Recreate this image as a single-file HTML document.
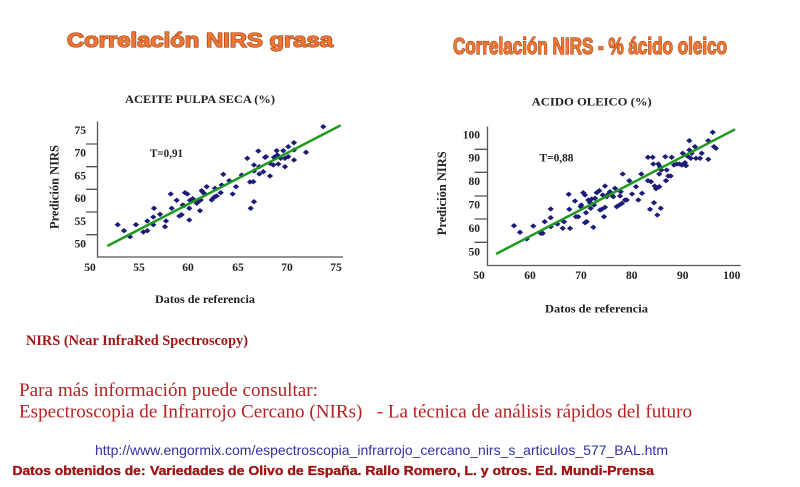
<!DOCTYPE html>
<html><head><meta charset="utf-8"><style>
html,body{margin:0;padding:0;background:#fff;}
svg{display:block;}
.t{font-family:"Liberation Serif",serif;font-weight:bold;fill:#222;}
.tk{font-family:"Liberation Serif",serif;font-weight:bold;fill:#222;font-size:11.5px;}
</style></head><body>
<svg width="800" height="487" viewBox="0 0 800 487" xmlns="http://www.w3.org/2000/svg">
<rect width="800" height="487" fill="#fff"/>
<!-- Titles -->
<text x="67" y="47" textLength="266" lengthAdjust="spacingAndGlyphs" font-family="Liberation Sans, sans-serif" font-weight="bold" font-size="20" fill="#ee7733" stroke="#a8461a" stroke-width="1.3" paint-order="stroke">Correlación NIRS grasa</text>
<text x="453" y="54" textLength="274" lengthAdjust="spacingAndGlyphs" font-family="Liberation Sans, sans-serif" font-weight="bold" font-size="23" fill="#ee7733" stroke="#a8461a" stroke-width="1.3" paint-order="stroke">Correlación NIRS - % ácido oleico</text>

<!-- LEFT CHART -->
<text class="t" x="125" y="103" font-size="12" textLength="150" lengthAdjust="spacingAndGlyphs">ACEITE PULPA SECA (%)</text>
<g stroke="#555" stroke-width="1.3" fill="none">
<path d="M97.5 121.5 V257 H343"/>
<path d="M86 144H97.5M86 166.7H97.5M86 189.3H97.5M86 212H97.5M86 234.7H97.5"/>
</g>
<g class="tk" text-anchor="end">
<text x="86" y="134">75</text><text x="86" y="156.7">70</text><text x="86" y="179.7">65</text>
<text x="86" y="202">60</text><text x="86" y="225">55</text><text x="86" y="247.7">50</text>
</g>
<g class="tk" text-anchor="middle">
<text x="90" y="271">50</text><text x="139" y="271">55</text><text x="188" y="271">60</text>
<text x="238" y="271">65</text><text x="287" y="271">70</text><text x="336" y="271">75</text>
</g>
<text class="t" x="150" y="157" font-size="12" textLength="33" lengthAdjust="spacingAndGlyphs">T=0,91</text>
<text class="t" x="155" y="303" font-size="12" textLength="100" lengthAdjust="spacingAndGlyphs">Datos de referencia</text>
<text class="t" font-size="13" textLength="84" lengthAdjust="spacingAndGlyphs" transform="translate(58.5,229) rotate(-90)">Predición NIRS</text>
<path fill="#1c1c78" stroke="#1c1c78" stroke-width="0.7" d="M115.1 224.7l2.6-2.2l2.6 2.2l-2.6 2.2zM121.4 230.7l2.6-2.2l2.6 2.2l-2.6 2.2zM127.4 236.7l2.6-2.2l2.6 2.2l-2.6 2.2zM133.4 224.7l2.6-2.2l2.6 2.2l-2.6 2.2zM140.7 232l2.6-2.2l2.6 2.2l-2.6 2.2zM144.7 230.7l2.6-2.2l2.6 2.2l-2.6 2.2zM144.7 221l2.6-2.2l2.6 2.2l-2.6 2.2zM150.7 224.7l2.6-2.2l2.6 2.2l-2.6 2.2zM150.7 217l2.6-2.2l2.6 2.2l-2.6 2.2zM151.4 208.3l2.6-2.2l2.6 2.2l-2.6 2.2zM157.4 214.3l2.6-2.2l2.6 2.2l-2.6 2.2zM162.4 226.7l2.6-2.2l2.6 2.2l-2.6 2.2zM163.4 221l2.6-2.2l2.6 2.2l-2.6 2.2zM168.1 194l2.6-2.2l2.6 2.2l-2.6 2.2zM169.1 208.3l2.6-2.2l2.6 2.2l-2.6 2.2zM174.1 200.3l2.6-2.2l2.6 2.2l-2.6 2.2zM176.7 216l2.6-2.2l2.6 2.2l-2.6 2.2zM179.1 214.7l2.6-2.2l2.6 2.2l-2.6 2.2zM180.1 205l2.6-2.2l2.6 2.2l-2.6 2.2zM181.4 205.7l2.6-2.2l2.6 2.2l-2.6 2.2zM182.4 192.7l2.6-2.2l2.6 2.2l-2.6 2.2zM184.7 194l2.6-2.2l2.6 2.2l-2.6 2.2zM186.7 208.3l2.6-2.2l2.6 2.2l-2.6 2.2zM186.7 220l2.6-2.2l2.6 2.2l-2.6 2.2zM187.4 200.3l2.6-2.2l2.6 2.2l-2.6 2.2zM190.1 198.7l2.6-2.2l2.6 2.2l-2.6 2.2zM194.1 203.3l2.6-2.2l2.6 2.2l-2.6 2.2zM195.7 201.7l2.6-2.2l2.6 2.2l-2.6 2.2zM197.4 210.7l2.6-2.2l2.6 2.2l-2.6 2.2zM198.1 200l2.6-2.2l2.6 2.2l-2.6 2.2zM199.1 190.7l2.6-2.2l2.6 2.2l-2.6 2.2zM200.7 192.7l2.6-2.2l2.6 2.2l-2.6 2.2zM202.4 194l2.6-2.2l2.6 2.2l-2.6 2.2zM204.1 186.7l2.6-2.2l2.6 2.2l-2.6 2.2zM209.1 200l2.6-2.2l2.6 2.2l-2.6 2.2zM210.7 198l2.6-2.2l2.6 2.2l-2.6 2.2zM212.4 196.7l2.6-2.2l2.6 2.2l-2.6 2.2zM214.1 196l2.6-2.2l2.6 2.2l-2.6 2.2zM212.4 188.3l2.6-2.2l2.6 2.2l-2.6 2.2zM218.1 192.7l2.6-2.2l2.6 2.2l-2.6 2.2zM219.1 185l2.6-2.2l2.6 2.2l-2.6 2.2zM220.7 174.3l2.6-2.2l2.6 2.2l-2.6 2.2zM226.7 180.7l2.6-2.2l2.6 2.2l-2.6 2.2zM230.1 194l2.6-2.2l2.6 2.2l-2.6 2.2zM233.4 186.7l2.6-2.2l2.6 2.2l-2.6 2.2zM239.1 175l2.6-2.2l2.6 2.2l-2.6 2.2zM244.7 158.3l2.6-2.2l2.6 2.2l-2.6 2.2zM247.4 182l2.6-2.2l2.6 2.2l-2.6 2.2zM248.1 208.3l2.6-2.2l2.6 2.2l-2.6 2.2zM250.7 181.7l2.6-2.2l2.6 2.2l-2.6 2.2zM251.4 165l2.6-2.2l2.6 2.2l-2.6 2.2zM251.4 201.7l2.6-2.2l2.6 2.2l-2.6 2.2zM251.4 171l2.6-2.2l2.6 2.2l-2.6 2.2zM255.7 151l2.6-2.2l2.6 2.2l-2.6 2.2zM256.7 166.7l2.6-2.2l2.6 2.2l-2.6 2.2zM256.7 174l2.6-2.2l2.6 2.2l-2.6 2.2zM260.7 171.7l2.6-2.2l2.6 2.2l-2.6 2.2zM262.4 157.3l2.6-2.2l2.6 2.2l-2.6 2.2zM263.4 156.7l2.6-2.2l2.6 2.2l-2.6 2.2zM267.4 163.3l2.6-2.2l2.6 2.2l-2.6 2.2zM267.4 176l2.6-2.2l2.6 2.2l-2.6 2.2zM270.7 165l2.6-2.2l2.6 2.2l-2.6 2.2zM271.4 157.3l2.6-2.2l2.6 2.2l-2.6 2.2zM274.1 150.7l2.6-2.2l2.6 2.2l-2.6 2.2zM274.7 155l2.6-2.2l2.6 2.2l-2.6 2.2zM275.7 164l2.6-2.2l2.6 2.2l-2.6 2.2zM278.1 158.3l2.6-2.2l2.6 2.2l-2.6 2.2zM280.7 150.7l2.6-2.2l2.6 2.2l-2.6 2.2zM282.4 166.7l2.6-2.2l2.6 2.2l-2.6 2.2zM282.4 158.3l2.6-2.2l2.6 2.2l-2.6 2.2zM285.7 156.7l2.6-2.2l2.6 2.2l-2.6 2.2zM285.7 146.7l2.6-2.2l2.6 2.2l-2.6 2.2zM291.4 142.7l2.6-2.2l2.6 2.2l-2.6 2.2zM291.4 150l2.6-2.2l2.6 2.2l-2.6 2.2zM291.4 160l2.6-2.2l2.6 2.2l-2.6 2.2zM303.4 152.3l2.6-2.2l2.6 2.2l-2.6 2.2zM320.7 126.7l2.6-2.2l2.6 2.2l-2.6 2.2z"/>
<line x1="107.3" y1="246" x2="340.7" y2="125.3" stroke="#1f9a1f" stroke-width="2.5"/>

<!-- RIGHT CHART -->
<text class="t" x="531.7" y="105.7" font-size="12" textLength="120" lengthAdjust="spacingAndGlyphs">ACIDO OLEICO (%)</text>
<g stroke="#555" stroke-width="1.3" fill="none">
<path d="M487.5 126.5 V265.5 H740.7"/>
<path d="M474.5 149.3H487.5M474.5 172.3H487.5M474.5 196H487.5M474.5 219H487.5M474.5 242.3H487.5"/>
</g>
<g class="tk" text-anchor="end">
<text x="480" y="138.7">100</text><text x="480" y="161.5">90</text><text x="480" y="185.2">80</text>
<text x="480" y="208.5">70</text><text x="480" y="232">60</text><text x="480" y="255.7">50</text>
</g>
<g class="tk" text-anchor="middle">
<text x="479" y="279">50</text><text x="530" y="279">60</text><text x="581" y="279">70</text>
<text x="631.7" y="279">80</text><text x="682.7" y="279">90</text><text x="731.7" y="279">100</text>
</g>
<text class="t" x="539.5" y="161.5" font-size="12" textLength="34" lengthAdjust="spacingAndGlyphs">T=0,88</text>
<text class="t" x="545" y="312.3" font-size="12" textLength="103" lengthAdjust="spacingAndGlyphs">Datos de referencia</text>
<text class="t" font-size="13" textLength="84" lengthAdjust="spacingAndGlyphs" transform="translate(446,235.3) rotate(-90)">Predición NIRS</text>
<path fill="#1c1c78" stroke="#1c1c78" stroke-width="0.7" d="M511.4 225.7l2.6-2.2l2.6 2.2l-2.6 2.2zM517.4 232.3l2.6-2.2l2.6 2.2l-2.6 2.2zM524.1 239l2.6-2.2l2.6 2.2l-2.6 2.2zM530.7 226l2.6-2.2l2.6 2.2l-2.6 2.2zM538.1 233.3l2.6-2.2l2.6 2.2l-2.6 2.2zM540.1 233.3l2.6-2.2l2.6 2.2l-2.6 2.2zM542.1 221.7l2.6-2.2l2.6 2.2l-2.6 2.2zM548.1 226.7l2.6-2.2l2.6 2.2l-2.6 2.2zM548.1 217.7l2.6-2.2l2.6 2.2l-2.6 2.2zM548.1 209l2.6-2.2l2.6 2.2l-2.6 2.2zM554.7 224l2.6-2.2l2.6 2.2l-2.6 2.2zM560.1 228.3l2.6-2.2l2.6 2.2l-2.6 2.2zM561.4 221.7l2.6-2.2l2.6 2.2l-2.6 2.2zM566.7 209.3l2.6-2.2l2.6 2.2l-2.6 2.2zM567.4 228.3l2.6-2.2l2.6 2.2l-2.6 2.2zM566.1 194.3l2.6-2.2l2.6 2.2l-2.6 2.2zM572.4 201l2.6-2.2l2.6 2.2l-2.6 2.2zM573.4 216.7l2.6-2.2l2.6 2.2l-2.6 2.2zM575.7 216.7l2.6-2.2l2.6 2.2l-2.6 2.2zM578.1 206.7l2.6-2.2l2.6 2.2l-2.6 2.2zM578.7 205l2.6-2.2l2.6 2.2l-2.6 2.2zM580.7 192.7l2.6-2.2l2.6 2.2l-2.6 2.2zM582.4 195l2.6-2.2l2.6 2.2l-2.6 2.2zM582.4 222.7l2.6-2.2l2.6 2.2l-2.6 2.2zM583.4 212.7l2.6-2.2l2.6 2.2l-2.6 2.2zM584.1 221.7l2.6-2.2l2.6 2.2l-2.6 2.2zM585.7 200l2.6-2.2l2.6 2.2l-2.6 2.2zM587.4 202.7l2.6-2.2l2.6 2.2l-2.6 2.2zM588.1 208.3l2.6-2.2l2.6 2.2l-2.6 2.2zM589.1 199l2.6-2.2l2.6 2.2l-2.6 2.2zM591.4 205l2.6-2.2l2.6 2.2l-2.6 2.2zM590.7 227.3l2.6-2.2l2.6 2.2l-2.6 2.2zM592.4 198.3l2.6-2.2l2.6 2.2l-2.6 2.2zM594.1 192.7l2.6-2.2l2.6 2.2l-2.6 2.2zM596.7 190.7l2.6-2.2l2.6 2.2l-2.6 2.2zM597.4 210l2.6-2.2l2.6 2.2l-2.6 2.2zM599.1 209.3l2.6-2.2l2.6 2.2l-2.6 2.2zM600.1 195l2.6-2.2l2.6 2.2l-2.6 2.2zM601.4 216.7l2.6-2.2l2.6 2.2l-2.6 2.2zM602.4 186l2.6-2.2l2.6 2.2l-2.6 2.2zM602.4 207.3l2.6-2.2l2.6 2.2l-2.6 2.2zM604.1 196.7l2.6-2.2l2.6 2.2l-2.6 2.2zM605.7 194l2.6-2.2l2.6 2.2l-2.6 2.2zM607.4 191.7l2.6-2.2l2.6 2.2l-2.6 2.2zM609.1 195l2.6-2.2l2.6 2.2l-2.6 2.2zM610.7 196.7l2.6-2.2l2.6 2.2l-2.6 2.2zM612.4 188.3l2.6-2.2l2.6 2.2l-2.6 2.2zM614.1 206.7l2.6-2.2l2.6 2.2l-2.6 2.2zM616.7 205l2.6-2.2l2.6 2.2l-2.6 2.2zM617.4 196l2.6-2.2l2.6 2.2l-2.6 2.2zM618.1 191.7l2.6-2.2l2.6 2.2l-2.6 2.2zM619.4 203.3l2.6-2.2l2.6 2.2l-2.6 2.2zM620.1 174l2.6-2.2l2.6 2.2l-2.6 2.2zM622.4 200l2.6-2.2l2.6 2.2l-2.6 2.2zM624.1 200l2.6-2.2l2.6 2.2l-2.6 2.2zM626.7 180.7l2.6-2.2l2.6 2.2l-2.6 2.2zM629.4 194l2.6-2.2l2.6 2.2l-2.6 2.2zM633.4 186.7l2.6-2.2l2.6 2.2l-2.6 2.2zM635.7 200l2.6-2.2l2.6 2.2l-2.6 2.2zM638.7 174l2.6-2.2l2.6 2.2l-2.6 2.2zM639.4 193.3l2.6-2.2l2.6 2.2l-2.6 2.2zM645.4 157.3l2.6-2.2l2.6 2.2l-2.6 2.2zM645.4 180.7l2.6-2.2l2.6 2.2l-2.6 2.2zM647.4 209.3l2.6-2.2l2.6 2.2l-2.6 2.2zM648.4 181.7l2.6-2.2l2.6 2.2l-2.6 2.2zM650.1 157.3l2.6-2.2l2.6 2.2l-2.6 2.2zM650.7 164l2.6-2.2l2.6 2.2l-2.6 2.2zM651.4 202.7l2.6-2.2l2.6 2.2l-2.6 2.2zM652.1 186l2.6-2.2l2.6 2.2l-2.6 2.2zM653.4 188.7l2.6-2.2l2.6 2.2l-2.6 2.2zM654.7 215l2.6-2.2l2.6 2.2l-2.6 2.2zM655.7 164l2.6-2.2l2.6 2.2l-2.6 2.2zM656.7 174l2.6-2.2l2.6 2.2l-2.6 2.2zM656.7 186.7l2.6-2.2l2.6 2.2l-2.6 2.2zM657.4 166.7l2.6-2.2l2.6 2.2l-2.6 2.2zM658.1 208.3l2.6-2.2l2.6 2.2l-2.6 2.2zM658.7 170l2.6-2.2l2.6 2.2l-2.6 2.2zM662.7 156.7l2.6-2.2l2.6 2.2l-2.6 2.2zM663.4 180.7l2.6-2.2l2.6 2.2l-2.6 2.2zM664.1 170l2.6-2.2l2.6 2.2l-2.6 2.2zM665.7 176l2.6-2.2l2.6 2.2l-2.6 2.2zM669.1 157.3l2.6-2.2l2.6 2.2l-2.6 2.2zM668.1 176l2.6-2.2l2.6 2.2l-2.6 2.2zM671.4 165l2.6-2.2l2.6 2.2l-2.6 2.2zM674.1 164l2.6-2.2l2.6 2.2l-2.6 2.2zM676.7 164l2.6-2.2l2.6 2.2l-2.6 2.2zM679.1 165l2.6-2.2l2.6 2.2l-2.6 2.2zM680.1 153.3l2.6-2.2l2.6 2.2l-2.6 2.2zM682.4 162.7l2.6-2.2l2.6 2.2l-2.6 2.2zM683.4 165.7l2.6-2.2l2.6 2.2l-2.6 2.2zM684.7 156l2.6-2.2l2.6 2.2l-2.6 2.2zM686.7 140.7l2.6-2.2l2.6 2.2l-2.6 2.2zM686.7 150l2.6-2.2l2.6 2.2l-2.6 2.2zM688.1 158.3l2.6-2.2l2.6 2.2l-2.6 2.2zM689.1 153.3l2.6-2.2l2.6 2.2l-2.6 2.2zM692.4 146.7l2.6-2.2l2.6 2.2l-2.6 2.2zM693.4 158.3l2.6-2.2l2.6 2.2l-2.6 2.2zM697.4 158.3l2.6-2.2l2.6 2.2l-2.6 2.2zM699.1 153.3l2.6-2.2l2.6 2.2l-2.6 2.2zM705.7 140.7l2.6-2.2l2.6 2.2l-2.6 2.2zM705.7 159.3l2.6-2.2l2.6 2.2l-2.6 2.2zM710.1 132.3l2.6-2.2l2.6 2.2l-2.6 2.2zM711.4 146.7l2.6-2.2l2.6 2.2l-2.6 2.2zM713.4 148.3l2.6-2.2l2.6 2.2l-2.6 2.2z"/>
<line x1="496" y1="254" x2="735" y2="129.3" stroke="#1f9a1f" stroke-width="2.5"/>

<!-- BOTTOM TEXT -->
<text x="26" y="345" textLength="222" lengthAdjust="spacingAndGlyphs" font-family="Liberation Serif, serif" font-weight="bold" font-size="14.3" fill="#a01818">NIRS (Near InfraRed Spectroscopy)</text>
<text x="19" y="396" textLength="299" lengthAdjust="spacingAndGlyphs" font-family="Liberation Serif, serif" font-size="19" fill="#b42222">Para más información puede consultar:</text>
<text x="19" y="417.5" textLength="673" lengthAdjust="spacingAndGlyphs" font-family="Liberation Serif, serif" font-size="19" fill="#b42222" xml:space="preserve">Espectroscopia de Infrarrojo Cercano (NIRs)   - La técnica de análisis rápidos del futuro</text>
<text x="95" y="455" textLength="573" lengthAdjust="spacingAndGlyphs" font-family="Liberation Sans, sans-serif" font-size="14" fill="#3232a2">http://www.engormix.com/espectroscopia_infrarrojo_cercano_nirs_s_articulos_577_BAL.htm</text>
<text x="12.5" y="475" textLength="133" lengthAdjust="spacingAndGlyphs" font-family="Liberation Sans, sans-serif" font-weight="bold" font-size="12.5" fill="#b01010" stroke="#6a0a0a" stroke-width="0.3">Datos obtenidos de:</text>
<text x="150" y="475" textLength="504" lengthAdjust="spacingAndGlyphs" font-family="Liberation Sans, sans-serif" font-weight="bold" font-size="12.5" fill="#b01010" stroke="#6a0a0a" stroke-width="0.3">Variedades de Olivo de España. Rallo Romero, L. y otros. Ed. Mundi-Prensa</text>
</svg>
</body></html>
